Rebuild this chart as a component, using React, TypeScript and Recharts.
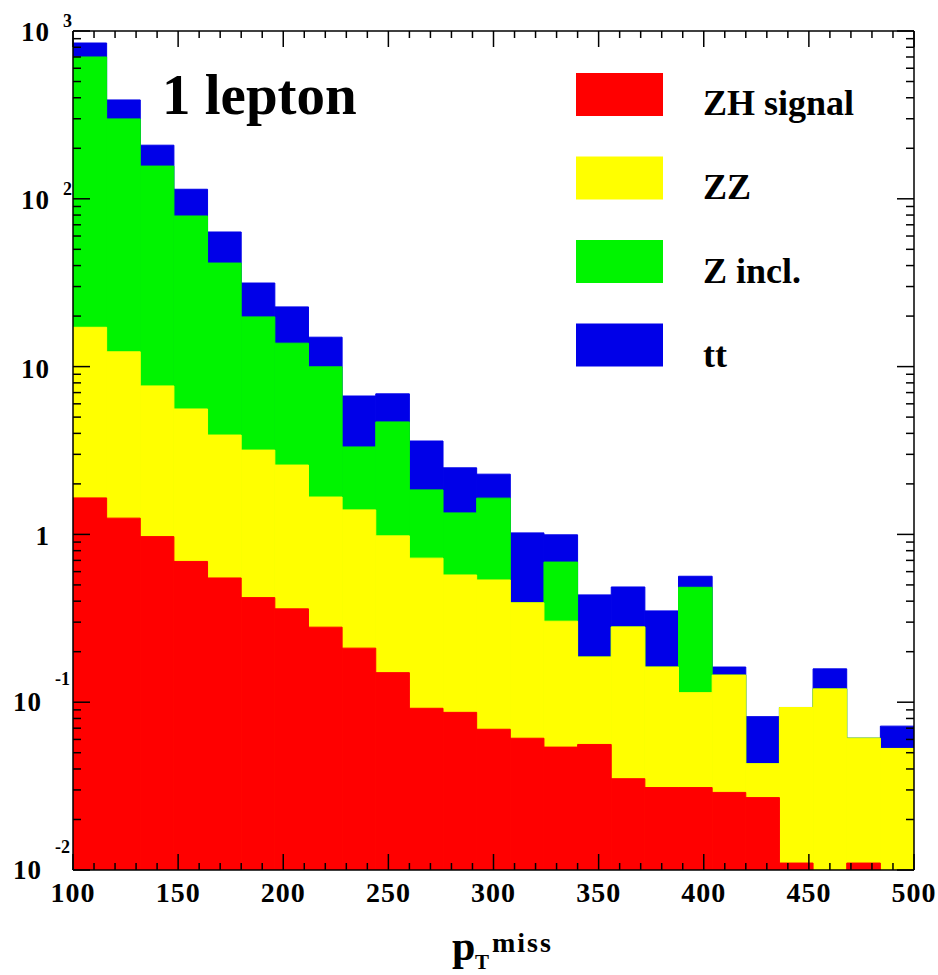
import React from 'react';
import { BarChart, Bar, XAxis, YAxis, Legend } from 'recharts';

// bins of missing pT, 16 GeV wide
const binStart = [100, 116, 132, 148, 164, 180, 196, 212, 228, 244, 260, 276, 292, 308, 324, 340, 356, 372, 388, 404, 420, 436, 452, 468, 484];
const BIN_WIDTH = 16;

// contribution of each process per bin
const zhSignal = [1.65, 1.25, 0.97, 0.69, 0.55, 0.42, 0.36, 0.28, 0.21, 0.15, 0.092, 0.087, 0.069, 0.061, 0.054, 0.056, 0.035, 0.031, 0.031, 0.029, 0.027, 0.011, 0, 0.011, 0];
const zz = [15.5, 11.0, 6.7, 4.9, 3.36, 2.76, 2.23, 1.39, 1.19, 0.83, 0.63, 0.486, 0.466, 0.33, 0.25, 0.13, 0.246, 0.131, 0.083, 0.116, 0.016, 0.082, 0.12, 0.05, 0.053];
const zIncl = [683, 287, 149, 73.4, 37.5, 16.6, 11.2, 8.3, 1.92, 3.7, 1.12, 0.77, 1.11, 0, 0.38, 0, 0, 0, 0.37, 0, 0, 0, 0, 0, 0];
const ttbar = [148, 89, 52, 35, 22, 11.7, 8.9, 5.0, 3.36, 2.2, 1.76, 1.15, 0.64, 0.63, 0.31, 0.25, 0.205, 0.188, 0.079, 0.017, 0.039, 0, 0.038, 0, 0.019];

const legendOrder = ['ZH signal', 'ZZ', 'Z incl.', 'tt'];

const xMajorTicks = [100, 150, 200, 250, 300, 350, 400, 450, 500];
const xTicks = Array.from({ length: 41 }, (_, i) => 100 + 10 * i);
const yDecades = [-2, -1, 0, 1, 2, 3];
const yTicks: number[] = [];
yDecades.forEach((e) => {
  yTicks.push(Math.pow(10, e));
  if (e < 3) for (let m = 2; m <= 9; m++) yTicks.push(+(m * Math.pow(10, e)).toPrecision(6));
});

const RED = '#ff0000';
const YELLOW = '#ffff00';
const GREEN = '#00f400';
const BLUE = '#0000e8';
const FONT = '"Liberation Serif", "Times New Roman", serif';

const W = 938;
const H = 975;
const PLOT_LEFT = 73;
const PLOT_RIGHT = 914;
const PLOT_TOP = 31;
const PLOT_BOTTOM = 870;
// a hair under the bin width, otherwise recharts shrinks the bars to 90%
const barPx = ((PLOT_RIGHT - PLOT_LEFT) * BIN_WIDTH) / (500 - 100) - 0.01;

const data = binStart.map((lo, i) => {
  const red = zhSignal[i];
  const yellow = red + zz[i];
  const green = yellow + zIncl[i];
  const blue = green + ttbar[i];
  return { center: lo + BIN_WIDTH / 2, red: red > 0 ? red : null, yellow, green, blue };
});

const renderXTick = (props: any, side: 'top' | 'bottom') => {
  const { x, y, payload } = props;
  const v = payload.value;
  const major = xMajorTicks.includes(v);
  const len = major ? 16 : 7;
  const dir = side === 'bottom' ? -1 : 1;
  return (
    <g>
      <line x1={x} x2={x} y1={y} y2={y + dir * len} stroke="#000" strokeWidth={1.5} />
      {side === 'bottom' && major && (
        <text x={x} y={y + 32} textAnchor="middle" fontFamily={FONT} fontWeight="bold" fontSize={28} letterSpacing={1} fill="#000">
          {v}
        </text>
      )}
    </g>
  );
};

const renderYTick = (props: any, side: 'left' | 'right') => {
  const { x, y, payload } = props;
  const lg = Math.log10(payload.value);
  const e = Math.round(lg);
  const major = Math.abs(lg - e) < 1e-6;
  const len = major ? 17 : 8;
  const dir = side === 'left' ? 1 : -1;
  let label = null;
  if (side === 'left' && major) {
    if (e === 0 || e === 1) {
      label = (
        <text x={x - 23} y={y + 11} textAnchor="end" fontFamily={FONT} fontWeight="bold" fontSize={27} letterSpacing={1} fill="#000">
          {e === 0 ? '1' : '10'}
        </text>
      );
    } else {
      const neg = e < 0;
      label = (
        <g>
          <text x={x - (neg ? 31 : 23)} y={y + (neg ? 9 : 10)} textAnchor="end" fontFamily={FONT} fontWeight="bold" fontSize={27} letterSpacing={1} fill="#000">
            10
          </text>
          <text x={x - (neg ? 18 : 10)} y={y + (neg ? -17 : -4)} fontFamily={FONT} fontWeight="bold" fontSize={18} fill="#000">
            {String(e)}
          </text>
        </g>
      );
    }
  }
  return (
    <g>
      <line x1={x} x2={x + dir * len} y1={y} y2={y} stroke="#000" strokeWidth={1.5} />
      {label}
    </g>
  );
};

const LegendBox = (props: any) => {
  const items = [...(props.payload ?? [])].sort(
    (a: any, b: any) => legendOrder.indexOf(a.value) - legendOrder.indexOf(b.value)
  );
  return (
    <svg width={340} height={340} style={{ display: 'block' }}>
      {items.map((it: any, i: number) => (
        <g key={it.value}>
          <rect x={0} y={i * 83.5} width={87} height={43} fill={it.color} />
          <text x={127} y={i * 84 + 42} fontFamily={FONT} fontWeight="bold" fontSize={36} fill="#000">
            {it.value}
          </text>
        </g>
      ))}
    </svg>
  );
};

const axisLine = { stroke: '#000', strokeWidth: 1.5 };

const App: React.FC = () => {
  return (
    <div style={{ position: 'absolute', left: 0, top: 0, width: W, height: H, background: '#fff', overflow: 'hidden' }}>
      <BarChart width={W} height={H} data={data} margin={{ top: 0, right: 0, bottom: 0, left: 0 }} barCategoryGap={0} barGap={0}>
        <Bar dataKey="blue" name="tt" xAxisId="bottom" yAxisId="left" fill={BLUE} stroke={BLUE} strokeWidth={1} barSize={barPx} isAnimationActive={false} />
        <Bar dataKey="green" name="Z incl." xAxisId="top" yAxisId="left" fill={GREEN} stroke={GREEN} strokeWidth={1} barSize={barPx} isAnimationActive={false} />
        <Bar dataKey="yellow" name="ZZ" xAxisId="x3" yAxisId="right" fill={YELLOW} stroke={YELLOW} strokeWidth={1} barSize={barPx} isAnimationActive={false} />
        <Bar dataKey="red" name="ZH signal" xAxisId="x4" yAxisId="right" fill={RED} stroke={RED} strokeWidth={1} barSize={barPx} isAnimationActive={false} />

        <XAxis
          xAxisId="bottom"
          type="number"
          dataKey="center"
          domain={[100, 500]}
          allowDataOverflow
          ticks={xTicks}
          interval={0}
          height={H - PLOT_BOTTOM}
          tickSize={0}
          tickMargin={0}
          tickLine={false}
          axisLine={axisLine}
          tick={(p: any) => renderXTick(p, 'bottom')}
        />
        <XAxis
          xAxisId="top"
          orientation="top"
          type="number"
          dataKey="center"
          domain={[100, 500]}
          allowDataOverflow
          ticks={xTicks}
          interval={0}
          height={PLOT_TOP}
          tickSize={0}
          tickMargin={0}
          tickLine={false}
          axisLine={axisLine}
          tick={(p: any) => renderXTick(p, 'top')}
        />
        <XAxis xAxisId="x3" hide type="number" dataKey="center" domain={[100, 500]} allowDataOverflow />
        <XAxis xAxisId="x4" hide type="number" dataKey="center" domain={[100, 500]} allowDataOverflow />
        <YAxis
          yAxisId="left"
          type="number"
          scale="log"
          domain={[0.01, 1000]}
          allowDataOverflow
          ticks={yTicks}
          interval={0}
          width={PLOT_LEFT}
          tickSize={0}
          tickMargin={0}
          tickLine={false}
          axisLine={axisLine}
          tick={(p: any) => renderYTick(p, 'left')}
        />
        <YAxis
          yAxisId="right"
          orientation="right"
          type="number"
          scale="log"
          domain={[0.01, 1000]}
          allowDataOverflow
          ticks={yTicks}
          interval={0}
          width={W - PLOT_RIGHT}
          tickSize={0}
          tickMargin={0}
          tickLine={false}
          axisLine={axisLine}
          tick={(p: any) => renderYTick(p, 'right')}
        />
        <Legend
          layout="vertical"
          align="center"
          verticalAlign="middle"
          wrapperStyle={{ left: 576, top: 73, width: 340, height: 340 }}
          content={LegendBox}
        />
      </BarChart>
      <svg width={W} height={H} style={{ position: 'absolute', left: 0, top: 0, pointerEvents: 'none' }}>
        <text x={162} y={114} fontFamily={FONT} fontWeight="bold" fontSize={57} fill="#000">
          1 lepton
        </text>
        <text x={452} y={960} fontFamily={FONT} fontWeight="bold" fontSize={42} fill="#000">
          p
        </text>
        <text x={475} y={969} fontFamily={FONT} fontWeight="bold" fontSize={21} fill="#000">
          T
        </text>
        <text x={492} y={952} fontFamily={FONT} fontWeight="bold" fontSize={28} letterSpacing={2} fill="#000">
          miss
        </text>
      </svg>
    </div>
  );
};

export default App;
